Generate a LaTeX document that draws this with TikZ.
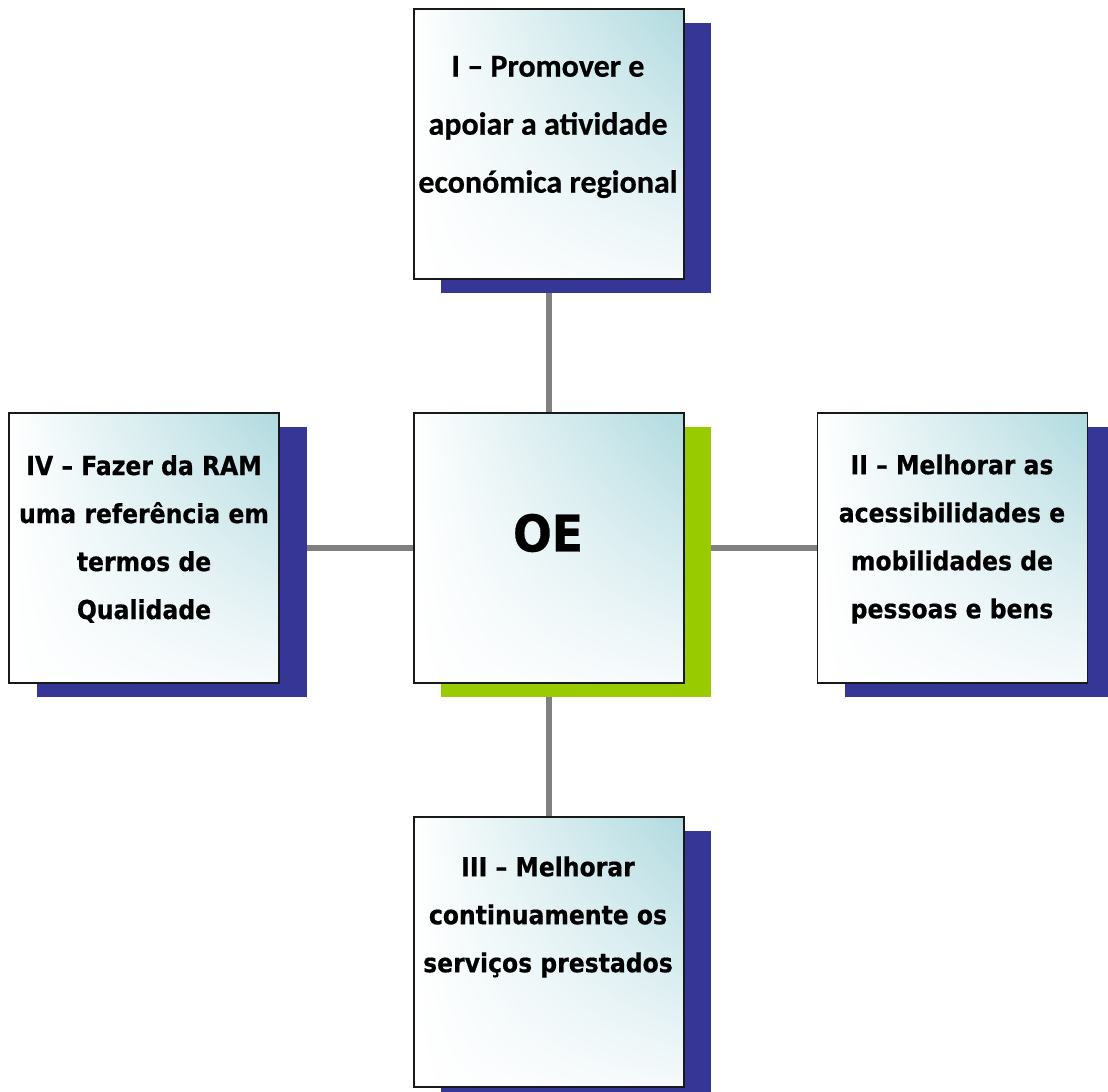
\documentclass[tikz,border=0pt]{standalone}
\usepackage{fontspec}
\usetikzlibrary{shadings}
\setmainfont{DejaVu Sans}
\newfontfamily\tah[FakeBold=0.6]{DejaVu Sans Condensed Bold}
\newfontfamily\calib[FakeBold=0.6]{Carlito Bold}
\pgfdeclarelayer{connlayer}
\pgfsetlayers{connlayer,main}
\definecolor{shadowblue}{RGB}{54,54,150}
\definecolor{shadowgreen}{RGB}{153,204,0}
\definecolor{boxteal}{RGB}{176,218,223}
\definecolor{boxpale}{RGB}{246,250,252}
\definecolor{connc}{RGB}{128,128,128}
\tikzset{
  boxbase/.style={minimum width=202.5pt, minimum height=202.5pt, inner sep=0pt, outer sep=0pt},
  boxmain/.style={boxbase, draw=black!90, line width=1.2pt,
    upper right=boxteal, upper left=white, lower left=white, lower right=boxpale},
  shadowb/.style={boxbase, fill=shadowblue},
  shadowg/.style={boxbase, fill=shadowgreen},
  conn/.style={draw=connc, line width=4.3pt},
  labA/.style={align=center, font=\tah\fontsize{19.6}{36}\selectfont, inner sep=0pt},
  labT/.style={align=center, font=\calib\fontsize{24}{43.5}\selectfont, inner sep=0pt},
}
\begin{document}
\begin{tikzpicture}[x=0.75pt,y=-0.75pt]
\useasboundingbox (0,0) rectangle (1108,1092);
\clip (0,0) rectangle (1108,1092);
% shadows
\node[shadowb] (topS) at (576,158) {};
\node[shadowg] (oeS) at (576,562) {};
\node[shadowb] (leftS) at (172,562) {};
\node[shadowb] (rightS) at (979.5,562) {};
\node[shadowb] (botS) at (576,966) {};
% boxes
\node[boxmain] (top) at (549,144) {};
\node[boxmain] (oe) at (549,548) {};
\node[boxmain] (left) at (144,548) {};
\node[boxmain] (right) at (952.5,548) {};
\node[boxmain] (bot) at (549,952) {};
% connectors
\begin{pgfonlayer}{connlayer}
\draw[conn] (top.center) -- (oe.center);
\draw[conn] (oe.center) -- (bot.center);
\draw[conn] (left.center) -- (oe.center);
\draw[conn] (oe.center) -- (right.center);
\end{pgfonlayer}
% labels
\node[labT] (topL) at (548,127) {I – Promover e\\apoiar a atividade\\económica regional};
\node[font=\tah\fontsize{38}{40}\selectfont, inner sep=0pt] (oeL) at (548,533) {OE};
\node[labA] (leftL) at (144,539) {IV – Fazer da RAM\\uma referência em\\termos de\\Qualidade};
\node[labA] (rightL) at (952,539) {II – Melhorar as\\acessibilidades e\\mobilidades de\\pessoas e bens};
\node[labA] (botL) at (548,917) {III – Melhorar\\continuamente os\\serviços prestados};
\end{tikzpicture}
\end{document}
